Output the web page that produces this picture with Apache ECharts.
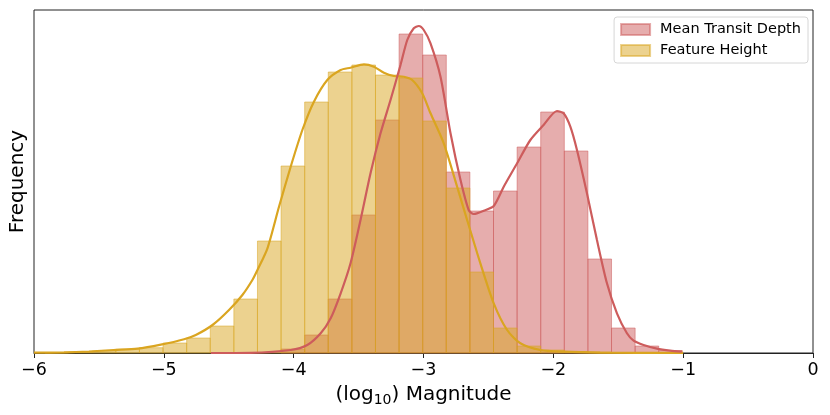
<!DOCTYPE html>
<html>
<head>
<meta charset="utf-8">
<script src="https://cdn.jsdelivr.net/npm/echarts@6/dist/echarts.min.js"></script>
<style>html,body{margin:0;padding:0;background:#fff}#c{width:830px;height:415px}</style>
</head>
<body>
<div id="c"></div>
<script>
// Shared histogram bin layout (log10 units)
var binWidth = 0.1818;
var redFirstEdge = -4.097;
var yellowFirstEdge = -5.915;

// Bar heights (arbitrary frequency units)
var redCounts = [4, 18, 54, 138, 233, 319, 298, 181, 142, 162, 206, 241, 202, 94, 25, 7, 2.5];
var yellowCounts = [0.3, 0.8, 2, 3.7, 5.3, 10, 15, 27, 54, 112, 187, 251, 281, 288, 278, 275, 232, 165, 81, 25, 7, 3, 1.5, 1, 0.5];

// KDE curves
var redKdeX = [-4.638, -4.331, -4.023, -3.895, -3.792, -3.715, -3.638, -3.562, -3.485, -3.408, -3.331, -3.254, -3.177, -3.125, -3.075, -3.036, -2.998, -2.946, -2.869, -2.792, -2.715, -2.652, -2.613, -2.536, -2.459, -2.382, -2.279, -2.177, -2.075, -1.972, -1.921, -1.869, -1.818, -1.741, -1.664, -1.587, -1.510, -1.433, -1.382, -1.305, -1.202, -1.100, -1.010];
var redKdeY = [0, 0.2, 3, 8, 19.7, 34.7, 59.7, 89.7, 133, 179.7, 219.7, 253, 288, 313, 324.7, 327, 323, 309.7, 276.3, 219.7, 173, 143, 139, 142.3, 147, 166.3, 189.7, 213, 228, 242, 239.7, 226.3, 203, 159.7, 113, 69.7, 39.7, 19.7, 12.3, 8, 4.3, 2.3, 1.3];
var yellowKdeX = [-6.0, -5.769, -5.577, -5.387, -5.202, -5.023, -4.844, -4.754, -4.625, -4.498, -4.395, -4.318, -4.279, -4.202, -4.113, -4.023, -3.933, -3.844, -3.741, -3.638, -3.562, -3.459, -3.382, -3.305, -3.228, -3.152, -3.087, -3.010, -2.946, -2.844, -2.741, -2.664, -2.562, -2.459, -2.356, -2.254, -2.100, -1.923, -1.638, -1.000];
var yellowKdeY = [0.3, 0.6, 1.5, 3, 4.3, 8.3, 13.7, 18, 28, 43, 58, 73, 83, 104.7, 146.3, 186.3, 223, 251.3, 273, 283, 285.3, 288.7, 286.3, 280.3, 277, 276.3, 273, 259.7, 239.7, 209.7, 166.3, 133, 89.7, 49.7, 23, 9.7, 3, 1.3, 0.4, 0.1];

var xTicks = [-6, -5, -4, -3, -2, -1, 0];

function bins(first, counts) {
  return counts.map(function (c, i) {
    var a = first + i * binWidth;
    return [a, a + binWidth, c];
  });
}
function pairs(xs, ys) { return xs.map(function (x, i) { return [x, ys[i]]; }); }

function renderBar(params, api) {
  var p0 = api.coord([api.value(0), api.value(2)]);
  var p1 = api.coord([api.value(1), 0]);
  return {
    type: 'rect',
    shape: { x: p0[0], y: p0[1], width: p1[0] - p0[0], height: p1[1] - p0[1] },
    style: api.style()
  };
}

var RED = '#cd5c5c', GOLD = '#daa520';
var chart = echarts.init(document.getElementById('c'), null, { renderer: 'canvas' });
chart.setOption({
  animation: false,
  textStyle: { fontFamily: 'DejaVu Sans' },
  grid: { left: 33, right: 17, top: 10, bottom: 62, show: true, borderColor: '#222', borderWidth: 1, backgroundColor: 'transparent' },
  legend: {
    data: ['Mean Transit Depth', 'Feature Height'],
    orient: 'vertical', right: 22, top: 17,
    itemWidth: 29, itemHeight: 11, itemGap: 6,
    padding: [5, 7, 5, 6],
    borderColor: '#d6d6d6', borderWidth: 1, borderRadius: 3,
    icon: 'rect',
    textStyle: { fontSize: 14.5, color: '#000', fontFamily: 'DejaVu Sans', padding: [0, 0, 0, 5] }
  },
  xAxis: {
    type: 'value', min: -6, max: 0, interval: 1,
    name: '(log{sub|10}) Magnitude', nameLocation: 'middle', nameGap: 30,
    nameTextStyle: { fontSize: 20, color: '#000', fontFamily: 'DejaVu Sans',
      rich: { sub: { fontSize: 14, color: '#000', fontFamily: 'DejaVu Sans', padding: [10, 0, 0, 0] } } },
    axisLine: { lineStyle: { color: '#222', width: 1 } },
    axisTick: { show: true, length: 5, lineStyle: { color: '#222' } },
    axisLabel: { fontSize: 17.5, color: '#000', margin: 8,
      formatter: function (v) { return xTicks.indexOf(v) >= 0 ? (v < 0 ? '\u2212' + Math.abs(v) : String(v)) : ''; } },
    splitLine: { show: false }
  },
  yAxis: {
    type: 'value', min: 0, max: 343,
    name: 'Frequency', nameLocation: 'middle', nameGap: 6, nameRotate: 90,
    nameTextStyle: { fontSize: 20, color: '#000', fontFamily: 'DejaVu Sans' },
    axisLine: { show: false }, axisTick: { show: false }, axisLabel: { show: false }, splitLine: { show: false }
  },
  series: [
    { name: 'Mean Transit Depth', type: 'custom', renderItem: renderBar, data: bins(redFirstEdge, redCounts),
      itemStyle: { color: 'rgba(205,92,92,0.5)', borderColor: 'rgba(205,92,92,0.5)', borderWidth: 1 } },
    { name: 'Feature Height', type: 'custom', renderItem: renderBar, data: bins(yellowFirstEdge, yellowCounts),
      itemStyle: { color: 'rgba(218,165,32,0.5)', borderColor: 'rgba(218,165,32,0.5)', borderWidth: 1 } },
    { name: 'fh-kde', type: 'line', smooth: 0.25, showSymbol: false, data: pairs(yellowKdeX, yellowKdeY),
      lineStyle: { color: GOLD, width: 2.2 }, itemStyle: { color: GOLD } },
    { name: 'mtd-kde', type: 'line', smooth: 0.25, showSymbol: false, data: pairs(redKdeX, redKdeY),
      lineStyle: { color: RED, width: 2.2 }, itemStyle: { color: RED } }
  ]
});
</script>
</body>
</html>
